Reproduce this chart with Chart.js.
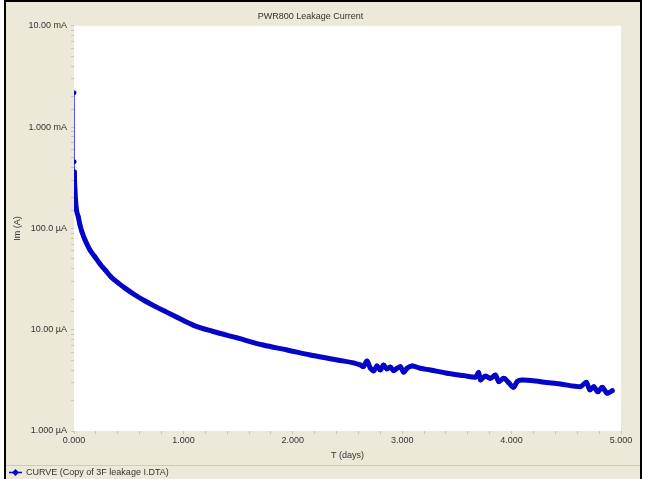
<!DOCTYPE html>
<html>
<head>
<meta charset="utf-8">
<script src="https://cdn.jsdelivr.net/npm/chart.js@4.4.0/dist/chart.umd.min.js"></script>
<style>
  html, body { margin: 0; padding: 0; background: #fff; }
  #grafico { display: block; }
</style>
</head>
<body>
<canvas id="grafico" width="646" height="479"></canvas>
<script>
// datos (tiempo en dias, corriente en A)
const tiempoDias = [
  0.002, 0.003, 0.004, 0.005, 0.009, 0.014, 0.023, 0.039, 0.055, 0.073,
  0.101, 0.146, 0.192, 0.238, 0.284, 0.339, 0.403, 0.476, 0.558, 0.650,
  0.741, 0.842, 0.951, 1.089, 1.272, 1.491, 1.729, 1.949, 2.159, 2.406,
  2.617, 2.644, 2.678, 2.708, 2.738, 2.769, 2.800, 2.830, 2.861, 2.891,
  2.921, 2.952, 2.983, 3.013, 3.044, 3.090, 3.166, 3.257, 3.410, 3.562,
  3.669, 3.699, 3.715, 3.760, 3.806, 3.852, 3.882, 3.928, 3.973, 4.019,
  4.050, 4.096, 4.263, 4.446, 4.629, 4.684, 4.715, 4.751, 4.788, 4.828,
  4.874, 4.920
];
const corriente = [
  2.18e-3, 4.54e-4, 3.61e-4, 3.01e-4, 2.40e-4, 1.91e-4, 1.52e-4, 1.30e-4, 1.08e-4, 9.23e-5,
  7.69e-5, 6.13e-5, 5.23e-5, 4.46e-5, 3.89e-5, 3.32e-5, 2.90e-5, 2.53e-5, 2.20e-5, 1.92e-5,
  1.70e-5, 1.50e-5, 1.31e-5, 1.11e-5, 9.6e-6, 8.3e-6, 7.06e-6, 6.31e-6, 5.63e-6, 5.03e-6,
  4.49e-6, 4.32e-6, 4.91e-6, 4.19e-6, 3.92e-6, 4.39e-6, 4.00e-6, 4.49e-6, 4.10e-6, 4.29e-6,
  3.94e-6, 4.16e-6, 4.32e-6, 3.80e-6, 4.16e-6, 4.39e-6, 4.16e-6, 4.00e-6, 3.72e-6, 3.52e-6,
  3.39e-6, 3.77e-6, 3.19e-6, 3.49e-6, 3.31e-6, 3.57e-6, 3.07e-6, 3.31e-6, 3.00e-6, 2.70e-6,
  3.07e-6, 3.19e-6, 3.07e-6, 2.91e-6, 2.74e-6, 3.03e-6, 2.54e-6, 2.74e-6, 2.44e-6, 2.70e-6,
  2.36e-6, 2.50e-6
];

const etiquetasX = ["0.000", "1.000", "2.000", "3.000", "4.000", "5.000"];
const exponentesY = [-6, -5, -4, -3, -2];
const etiquetasY = ["1.000 µA", "10.00 µA", "100.0 µA", "1.000 mA", "10.00 mA"];

const titulo = "PWR800 Leakage Current";
const nombreSerie = "CURVE (Copy of 3F leakage I.DTA)";

const fuente = { family: "'Liberation Sans', Arial, sans-serif", size: 9, weight: "normal" };
const colorTexto = "#333";
const azul = "#0505c8";

// 👉 fondo beige, borde y leyenda de abajo
const marco = {
  id: "marco",
  beforeDraw(chart) {
    const { ctx, chartArea: a } = chart;
    ctx.save();
    ctx.fillStyle = "#fff";
    ctx.fillRect(0, 0, 646, 479);
    ctx.fillStyle = "#ece9d8";
    ctx.fillRect(4, 0, 638, 479);
    ctx.fillStyle = "#fff";
    ctx.fillRect(a.left, a.top, a.right - a.left, a.bottom - a.top);
    ctx.strokeStyle = "#000";
    ctx.lineWidth = 2;
    ctx.strokeRect(5, 1, 636, 480);
    ctx.strokeStyle = "#d6c6bd";
    ctx.lineWidth = 1;
    ctx.beginPath();
    ctx.moveTo(6, 465.5);
    ctx.lineTo(640, 465.5);
    ctx.stroke();
    ctx.restore();
  },
  afterDraw(chart) {
    const { ctx } = chart;
    ctx.save();
    ctx.strokeStyle = azul;
    ctx.lineWidth = 1.5;
    ctx.beginPath();
    ctx.moveTo(9, 472.5);
    ctx.lineTo(22, 472.5);
    ctx.stroke();
    ctx.fillStyle = azul;
    ctx.beginPath();
    ctx.moveTo(15.5, 469);
    ctx.lineTo(19, 472.5);
    ctx.lineTo(15.5, 476);
    ctx.lineTo(12, 472.5);
    ctx.closePath();
    ctx.fill();
    ctx.fillStyle = colorTexto;
    ctx.font = "9px " + fuente.family;
    ctx.textBaseline = "middle";
    ctx.fillText(nombreSerie, 26, 472.5);
    ctx.restore();
  }
};

new Chart(document.getElementById("grafico"), {
  type: "line",
  data: {
    datasets: [{
      label: nombreSerie,
      data: tiempoDias.map((t, i) => ({ x: t, y: corriente[i] })),
      borderColor: azul,
      backgroundColor: azul,
      borderWidth: 5,
      borderJoinStyle: "round",
      borderCapStyle: "round",
      pointRadius: 2.3,
      pointBorderWidth: 0,
      cubicInterpolationMode: "monotone",
      segment: {
        borderWidth: ctx => ctx.p0DataIndex < 2 ? 1.2 : 5,
        borderColor: ctx => ctx.p0DataIndex < 2 ? "#3b3be6" : azul
      }
    }]
  },
  options: {
    responsive: false,
    animation: false,
    devicePixelRatio: 1,
    layout: { padding: { top: 0, right: 25, bottom: 13, left: 0 } },
    plugins: {
      legend: { display: false },
      tooltip: { enabled: false },
      title: {
        display: true,
        text: titulo,
        color: colorTexto,
        font: fuente,
        padding: { top: 11, bottom: 4 }
      }
    },
    scales: {
      x: {
        type: "linear",
        min: 0,
        max: 5,
        afterFit: s => { s.height = 35; },
        border: { display: false },
        grid: { drawOnChartArea: false, drawTicks: true, tickLength: 3, color: "#c8c4b8" },
        ticks: {
          stepSize: 0.2,
          autoSkip: false,
          maxRotation: 0,
          padding: 1,
          color: colorTexto,
          font: fuente,
          callback: v => {
            const r = Math.round(v);
            return Math.abs(v - r) < 1e-6 ? etiquetasX[r] : "";
          }
        },
        title: {
          display: true,
          text: "T (days)",
          color: colorTexto,
          font: fuente,
          padding: { top: 0, bottom: 5 }
        }
      },
      y: {
        type: "logarithmic",
        min: 1e-6,
        max: 1e-2,
        afterFit: s => { s.width = 74; },
        border: { display: false },
        grid: { drawOnChartArea: false, drawTicks: true, tickLength: 3, color: "#c8c4b8" },
        ticks: {
          autoSkip: false,
          padding: 4,
          color: colorTexto,
          font: fuente,
          callback: v => {
            const e = Math.log10(v);
            const r = Math.round(e);
            if (Math.abs(e - r) > 1e-6) return "";
            const k = exponentesY.indexOf(r);
            return k >= 0 ? etiquetasY[k] : "";
          }
        },
        title: {
          display: true,
          text: "Im (A)",
          color: colorTexto,
          font: fuente,
          padding: { top: 12, bottom: 0 }
        }
      }
    }
  },
  plugins: [marco]
});
</script>
</body>
</html>
